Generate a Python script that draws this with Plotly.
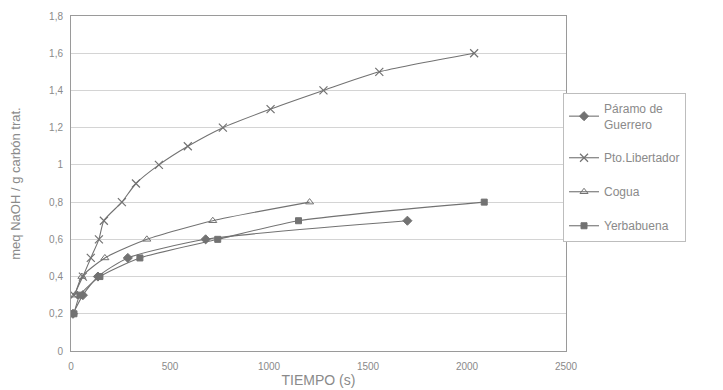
import plotly.graph_objects as go

# Data
paramo_t = [10, 60, 136, 287, 680, 1699]
paramo_v = [0.2, 0.3, 0.4, 0.5, 0.6, 0.7]

pto_t = [15, 60, 100, 141, 166, 257, 328, 444, 590, 767, 1008, 1275, 1557, 2036]
pto_v = [0.3, 0.4, 0.5, 0.6, 0.7, 0.8, 0.9, 1.0, 1.1, 1.2, 1.3, 1.4, 1.5, 1.6]

cogua_t = [20, 55, 171, 383, 716, 1205]
cogua_v = [0.3, 0.4, 0.5, 0.6, 0.7, 0.8]

yerba_t = [15, 45, 146, 348, 741, 1149, 2087]
yerba_v = [0.2, 0.3, 0.4, 0.5, 0.6, 0.7, 0.8]

series = [
    ("Páramo de<br>Guerrero", paramo_t, paramo_v, "diamond", 7, 1),
    ("Pto.Libertador", pto_t, pto_v, "x-thin", 8, 1.2),
    ("Cogua", cogua_t, cogua_v, "triangle-up-open", 7, 1),
    ("Yerbabuena", yerba_t, yerba_v, "square", 6, 1),
]

line_col = "#727272"
fig = go.Figure()
for i, (name, t, v, sym, sz, lw) in enumerate(series):
    fig.add_trace(go.Scatter(
        x=t, y=v, name=name, mode="lines+markers", legendgroup=f"g{i}",
        line=dict(color=line_col, width=1.1, shape="spline", smoothing=0.6),
        marker=dict(symbol=sym, size=sz, color=line_col,
                    line=dict(color=line_col, width=lw)),
    ))

fig.update_layout(
    width=715, height=382,
    margin=dict(l=63, r=157, t=8, b=39),
    paper_bgcolor="white", plot_bgcolor="white",
    separators=",.",
    font=dict(family="Liberation Sans, Arial", color="#8a8a8a", size=10),
    legend=dict(x=0.994, y=0.77, xanchor="left", yanchor="top",
                bordercolor="#bdbdbd", borderwidth=1, bgcolor="white",
                font=dict(size=12, color="#8a8a8a"), tracegroupgap=15,
                traceorder="grouped", itemwidth=30),
    showlegend=True,
)
fig.update_xaxes(range=[0, 2500], dtick=500, showgrid=False, automargin=False,
                 showline=True, linecolor="#9a9a9a", linewidth=1, mirror=True,
                 ticks="", zeroline=False, ticklabelstandoff=6,
                 tickfont=dict(size=10),
                 title=dict(text="TIEMPO (s)", font=dict(size=14, color="#8a8a8a"), standoff=4))
fig.update_yaxes(range=[0, 1.8], dtick=0.2, showgrid=True, gridcolor="#d4d4d4", automargin=False,
                 showline=True, linecolor="#9a9a9a", linewidth=1, mirror=True,
                 ticks="", zeroline=False, ticklabelstandoff=5,
                 title=dict(text="meq NaOH / g carbón trat.", font=dict(size=13, color="#8a8a8a"), standoff=30))

fig.write_html("out.html")
